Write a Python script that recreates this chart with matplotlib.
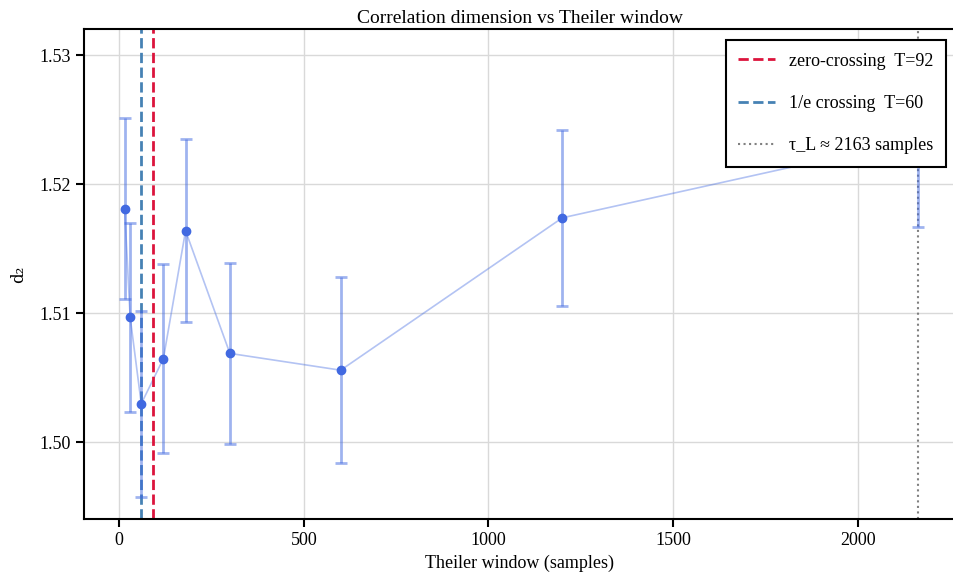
import numpy as np
from matplotlib import pyplot as plt

# datos
theiler = [15, 30, 60, 120, 180, 300, 600, 1200, 2163]
d2 = [1.5181, 1.5097, 1.5030, 1.5065, 1.5164, 1.5069, 1.5056, 1.5174, 1.5235]
d2_err = [0.0070, 0.0073, 0.0072, 0.0073, 0.0071, 0.0070, 0.0072, 0.0068, 0.0068]

T_cero = 92
T_1e = 60
tau_L = 2163

plt.rcParams['font.family'] = ['Liberation Serif', 'DejaVu Serif']
plt.rcParams['font.size'] = 13

fig = plt.figure(figsize=(9.54, 5.88), dpi=100)
ax = fig.add_axes([84/954, 69/588, 872/954, 490/588])

ax.grid(True, color='#d9d9d9', lw=1)
ax.set_axisbelow(True)

ax.plot(theiler, d2, color='royalblue', alpha=0.4, lw=1.2, zorder=2)
ax.errorbar(theiler, d2, yerr=d2_err, fmt='none', ecolor='royalblue', alpha=0.5,
            elinewidth=2, capsize=4, capthick=2, zorder=3)
ax.plot(theiler, d2, 'o', color='royalblue', ms=6, zorder=4)

ax.axvline(T_cero, color='crimson', ls='--', lw=2, label='zero-crossing  T=%d' % T_cero)
ax.axvline(T_1e, color='steelblue', ls='--', lw=2, label='1/e crossing  T=%d' % T_1e)
ax.axvline(tau_L, color='gray', ls=':', lw=1.5, label='τ_L ≈ %d samples' % tau_L)

for s in ax.spines.values():
    s.set_linewidth(1.5)
ax.tick_params(width=1.5, length=6)

ax.set_xlim(-95, 2266)
ax.set_xticks([0, 500, 1000, 1500, 2000])
ax.set_yticks([1.50, 1.51, 1.52, 1.53])
ax.yaxis.set_major_formatter(plt.FormatStrFormatter('%.2f'))

ax.set_xlabel('Theiler window (samples)')
ax.set_ylabel('d₂', family=['DejaVu Serif'], fontsize=12, labelpad=9)
ax.set_title('Correlation dimension vs Theiler window', fontsize=14, pad=4)

leg = ax.legend(loc='upper right', bbox_to_anchor=((946 - 84) / 872, (519 - 40) / 490),
                fancybox=False, edgecolor='black', framealpha=1,
                labelspacing=1.4, borderpad=0.7, handlelength=2.0, borderaxespad=0)
leg.get_frame().set_linewidth(1.5)

fig.savefig('out.png', dpi=100)
